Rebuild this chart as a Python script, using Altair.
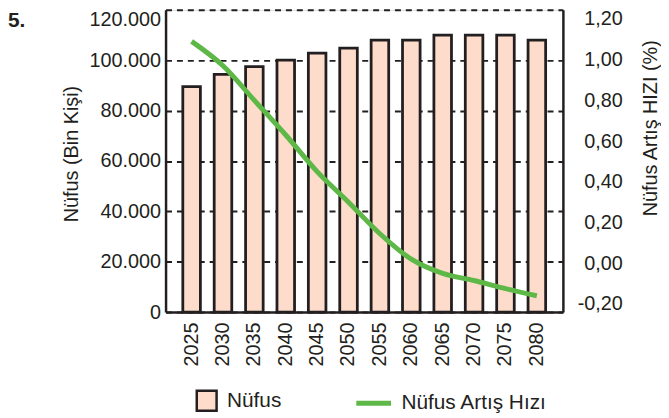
import altair as alt
import pandas as pd

years = ["2025", "2030", "2035", "2040", "2045", "2050",
         "2055", "2060", "2065", "2070", "2075", "2080"]
nufus = [89500, 94400, 97500, 100000, 102800, 104800,
         108000, 108000, 110000, 110000, 110000, 108000]
hiz = [1.09, 0.97, 0.80, 0.63, 0.45, 0.30,
       0.145, 0.02, -0.05, -0.085, -0.125, -0.16]
left_ticks = [0, 20000, 40000, 60000, 80000, 100000, 120000]
right_ticks = [-0.2, 0.0, 0.2, 0.4, 0.6, 0.8, 1.0, 1.2]

df = pd.DataFrame({"Yıl": years, "Nüfus": nufus, "Hız": hiz,
                   "s1": "Nüfus", "s2": "Nüfus Artış Hızı"})

INK = "#231F20"
FONT = "Liberation Sans"
BAR_FILL = "#FDDCCB"
GREEN = "#5DB847"

xenc = alt.X("Yıl:N", sort=years,
             scale=alt.Scale(paddingInner=0.44, paddingOuter=0.55),
             axis=alt.Axis(title=None, labelAngle=270, labelFont=FONT,
                           labelFontSize=20, labelColor=INK, ticks=False,
                           labelPadding=10, domainColor=INK, domainWidth=2.5))

bars = alt.Chart(df).mark_bar(stroke=INK, strokeWidth=2.8).encode(
    x=xenc,
    y=alt.Y("Nüfus:Q",
            scale=alt.Scale(domain=[0, 120000], nice=False),
            axis=alt.Axis(values=left_ticks,
                          labelExpr="replace(format(datum.value, ','), ',', '.')",
                          grid=True, gridDash=[6, 5], gridColor=INK, gridWidth=2,
                          ticks=False, domainColor=INK, domainWidth=2.5,
                          labelFont=FONT, labelFontSize=20, labelColor=INK,
                          labelPadding=5,
                          labelBaseline=alt.condition("datum.value == 120000",
                                                      alt.value("top"),
                                                      alt.value("middle")),
                          title="Nüfus (Bin Kişi)", titleFont=FONT,
                          titleFontSize=20, titleFontWeight="normal",
                          titleColor=INK, titleAngle=270, titleX=-95,
                          titleY=145, titleAlign="center",
                          titleBaseline="middle")),
    fill=alt.Fill("s1:N", scale=alt.Scale(range=[BAR_FILL]),
                  legend=alt.Legend(title=None, orient="none", legendX=30,
                                    legendY=383, symbolType="square",
                                    symbolSize=400, symbolStrokeColor=INK,
                                    symbolStrokeWidth=2.5, labelFont=FONT,
                                    labelFontSize=21, labelColor=INK,
                                    labelOffset=9, padding=0)),
)

line = alt.Chart(df).mark_line(strokeWidth=5, interpolate="monotone").encode(
    x=xenc,
    y=alt.Y("Hız:Q",
            scale=alt.Scale(domain=[-0.24, 1.245], nice=False, zero=False),
            axis=alt.Axis(orient="right", values=right_ticks,
                          labelExpr="(datum.value < 0 ? '-' : '') + replace(format(abs(datum.value), '.2f'), '.', ',')",
                          grid=False, ticks=False, domainColor=INK,
                          domainWidth=2.5, labelFont=FONT, labelFontSize=20,
                          labelColor=INK, labelAlign="right", labelPadding=60,
                          title="Nüfus Artış HIZI (%)", titleFont=FONT,
                          titleFontSize=20, titleFontWeight="normal",
                          titleColor=INK, titleAngle=270, titleX=88,
                          titleY=119, titleAlign="center",
                          titleBaseline="middle")),
    stroke=alt.Stroke("s2:N", scale=alt.Scale(range=[GREEN]),
                      legend=alt.Legend(title=None, orient="none", legendX=190,
                                        legendY=377, symbolType="stroke",
                                        symbolSize=1225, symbolStrokeWidth=5,
                                        labelFont=FONT, labelFontSize=21,
                                        labelColor=INK, labelOffset=8,
                                        padding=0)),
)

chart = alt.layer(bars, line).resolve_scale(
    y="independent", fill="independent", stroke="independent"
).properties(
    width=401, height=305,
    autosize=alt.AutoSizeParams(type="none"),
    padding={"left": 159, "top": 0, "right": 99, "bottom": 101},
    title=alt.TitleParams("5.", anchor="start", frame="group", dx=-159,
                          dy=22, offset=0, font=FONT, fontSize=21,
                          fontWeight="bold", color=INK),
).configure_view(stroke=None).configure(background="white")

chart.save("out.html", embed_options={"renderer": "svg", "actions": False})
